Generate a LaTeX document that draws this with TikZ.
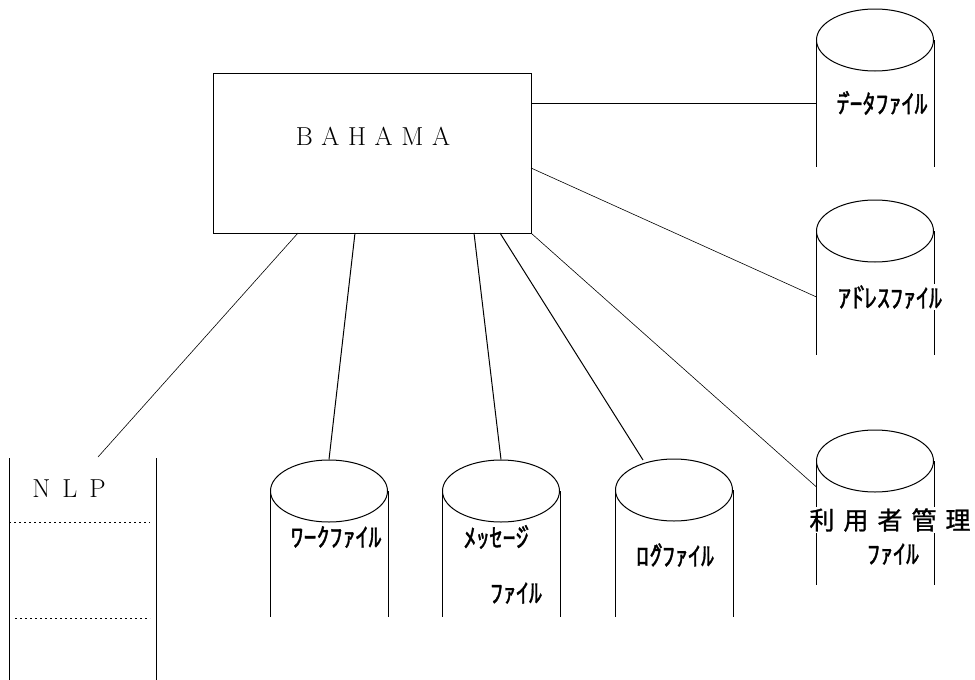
\documentclass[tikz,border=0pt]{standalone}
\usepackage{fontspec}
\newfontfamily\jp{Noto Sans CJK JP}[FakeBold=1.2]
\newcommand{\dk}{\kern-7pt ﾞ\kern-6pt\relax}
\usetikzlibrary{shapes.geometric}
\begin{document}
\begin{tikzpicture}[x=1pt,y=-1pt,line width=1pt,
  cyltop/.style={ellipse,draw,minimum width=117pt,minimum height=62pt,inner sep=0pt},
  jlab/.style={font=\jp\fontsize{26}{28}\selectfont,inner sep=1pt,fill=white},
  klab/.style={font=\jp\fontsize{25}{27}\selectfont,inner sep=1pt,fill=white},
  latlab/.style={font=\fontsize{26}{28}\selectfont,inner sep=0pt},
  link/.style={line width=1pt},
  thinlink/.style={line width=0.6pt},
  sep/.style={line width=0.6pt,dash pattern=on 2pt off 3pt}]
\useasboundingbox (0,0) rectangle (975,680);

% BAHAMA box
\node[draw,minimum width=318pt,minimum height=160pt,inner sep=0pt] (bahama) at (372,153) {};
\node[latlab] (btext) at (373,136) {B\hspace{8.6pt}A\hspace{8.6pt}H\hspace{8.6pt}A\hspace{8.6pt}M\hspace{8.6pt}A};

% NLP
\coordinate (nl1) at (9,458);
\coordinate (nl2) at (9,680);
\coordinate (nr1) at (156,458);
\coordinate (nr2) at (156,680);
\draw (nl1) -- (nl2);
\draw (nr1) -- (nr2);
\node[latlab] (nlp) at (69,489) {N\hspace{12pt}L\hspace{12pt}P};
\coordinate (d1a) at (9,522);
\coordinate (d1b) at (150,522);
\coordinate (d2a) at (15,618);
\coordinate (d2b) at (150,618);
\draw[sep] (d1a) -- (d1b);
\draw[sep] (d2a) -- (d2b);

% cylinders
\node[cyltop] (dtop) at (875,40) {};
\draw (dtop.west) -- ++(0,127);
\draw (dtop.east) -- ++(0,127);

\node[cyltop] (atop) at (875,231) {};
\draw (atop.west) -- ++(0,124);
\draw (atop.east) -- ++(0,124);

\node[cyltop] (utop) at (875,461) {};
\draw (utop.west) -- ++(0,124);
\draw (utop.east) -- ++(0,124);

\node[cyltop] (wtop) at (329,491) {};
\draw (wtop.west) -- ++(0,126);
\draw (wtop.east) -- ++(0,126);

\node[cyltop] (mtop) at (501,491) {};
\draw (mtop.west) -- ++(0,126);
\draw (mtop.east) -- ++(0,126);

\node[cyltop] (ltop) at (674,490) {};
\draw (ltop.west) -- ++(0,127);
\draw (ltop.east) -- ++(0,127);

% labels
\node[jlab] (dlab) at (882,103) {ﾃ\dk ｰﾀﾌｧｲﾙ};
\node[jlab] (alab) at (890,297) {ｱﾄ\dk ﾚｽﾌｧｲﾙ};
\node[klab] (ulab1) at (890,520) {利\hspace{9pt}用\hspace{9pt}者\hspace{9pt}管\hspace{9pt}理};
\node[jlab] (ulab2) at (893,554) {ﾌｧｲﾙ};
\node[jlab] (wlab) at (336,537) {ﾜｰｸﾌｧｲﾙ};
\node[jlab] (mlab1) at (496,537) {ﾒｯｾｰｼ\dk};
\node[jlab] (mlab2) at (516,593) {ﾌｧｲﾙ};
\node[jlab] (llab) at (675,555) {ﾛｸ\dk ﾌｧｲﾙ};

% connectors
\coordinate (bD) at (531,103);
\coordinate (cD) at (816.5,103);
\draw[link] (bD) -- (cD);
\coordinate (bA) at (531,168);
\coordinate (cA) at (816.5,297);
\draw[thinlink] (bA) -- (cA);
\coordinate (cU) at (816.5,487);
\draw[thinlink] (bahama.south east) -- (cU);
\coordinate (bL) at (500,233);
\coordinate (cL) at (643,460);
\draw[link] (bL) -- (cL);
\coordinate (bM) at (474,233);
\draw[link] (bM) -- (mtop.north);
\coordinate (bW) at (355,233);
\draw[link] (bW) -- (wtop.north);
\coordinate (bN) at (298,233);
\coordinate (cN) at (98,457);
\draw[thinlink] (bN) -- (cN);
\end{tikzpicture}
\end{document}
